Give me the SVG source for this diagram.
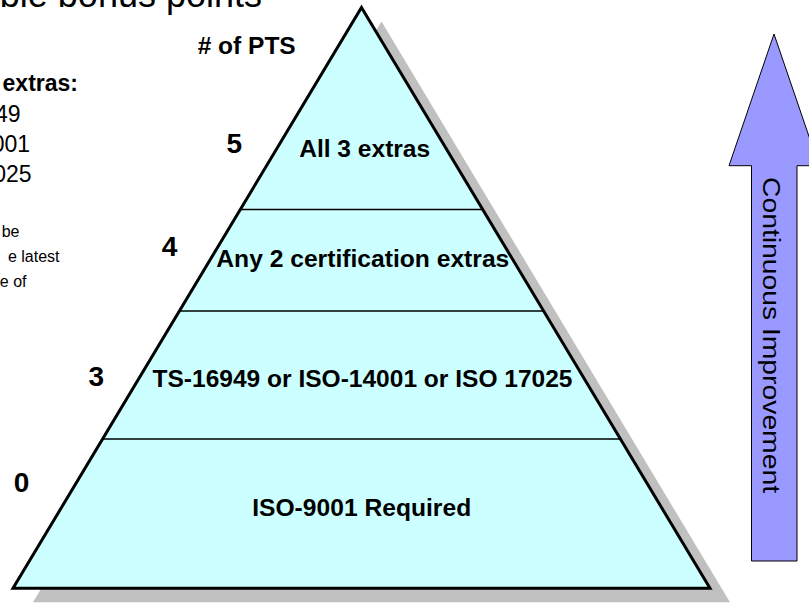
<svg xmlns="http://www.w3.org/2000/svg" width="809" height="603" viewBox="0 0 809 603">
<style>
text{font-family:"Liberation Sans",Arial,sans-serif;fill:#000}
.b{font-weight:bold}
.lbl{font-weight:bold;font-size:23px;text-anchor:middle}
.num{font-weight:bold;font-size:28px;text-anchor:middle}
.leg{font-size:23px;text-anchor:end}
.sm{font-size:16px;text-anchor:end}
.tier{fill:#CCFFFF;stroke:none}
.div{stroke:#000;stroke-width:1.3;fill:none}
</style>
<rect width="809" height="603" fill="#fff"/>
<g id="title"><text x="262" y="7" font-size="36" text-anchor="end">ble bonus points</text></g>
<g id="legend">
<text class="leg b" x="78" y="90.7">extras:</text>
<text class="leg" x="20.5" y="121.7">49</text>
<text class="leg" x="30" y="151.7">001</text>
<text class="leg" x="31.5" y="181.7">025</text>
<text class="sm" x="19.5" y="236.7">be</text>
<text class="sm" x="59.5" y="261.7">e latest</text>
<text class="sm" x="26.5" y="287">e of</text>
</g>
<g id="pyramid-shadow"><polygon points="381.5,21.5 730,602.3 33,602.3" fill="#C0C0C0"/></g>
<g id="tier-5"><polygon class="tier" points="361.5,7.5 482.7,209.5 240.3,209.5"/>
<text class="lbl" x="364.7" y="156.7" textLength="131" lengthAdjust="spacingAndGlyphs">All 3 extras</text></g>
<g id="tier-4"><polygon class="tier" points="240.3,209.5 482.7,209.5 543.6,311 179.4,311"/>
<text class="lbl" x="362.8" y="266.7" textLength="293" lengthAdjust="spacingAndGlyphs">Any 2 certification extras</text></g>
<g id="tier-3"><polygon class="tier" points="179.4,311 543.6,311 620.4,439 102.6,439"/>
<text class="lbl" x="362.5" y="386.7" textLength="420" lengthAdjust="spacingAndGlyphs">TS-16949 or ISO-14001 or ISO 17025</text></g>
<g id="tier-0"><polygon class="tier" points="102.6,439 620.4,439 710,588.3 13,588.3"/>
<text class="lbl" x="361.7" y="515.7" textLength="219" lengthAdjust="spacingAndGlyphs">ISO-9001 Required</text></g>
<g id="connectors">
<line class="div" x1="240.3" y1="209.5" x2="482.7" y2="209.5"/>
<line class="div" x1="179.4" y1="311" x2="543.6" y2="311"/>
<line class="div" x1="102.6" y1="439" x2="620.4" y2="439"/>
</g>
<g id="pyramid-outline"><polygon points="361.5,7.5 710,588.3 13,588.3" fill="none" stroke="#000" stroke-width="3" stroke-linejoin="miter"/></g>
<g id="points">
<text class="lbl" x="246.7" y="54.3" textLength="98" lengthAdjust="spacingAndGlyphs"># of PTS</text>
<text class="num" x="234.2" y="153">5</text>
<text class="num" x="169.5" y="256">4</text>
<text class="num" x="96.2" y="385.5">3</text>
<text class="num" x="21.5" y="491.5">0</text>
</g>
<g id="arrow">
<polygon points="774,34 819,165.7 797,165.7 797,561 751.5,561 751.5,165.7 729,165.7" fill="#9999FF" stroke="#000" stroke-width="1"/>
<text transform="translate(763,335) rotate(90)" font-size="23" text-anchor="middle" textLength="316" lengthAdjust="spacingAndGlyphs">Continuous Improvement</text>
</g>
</svg>
